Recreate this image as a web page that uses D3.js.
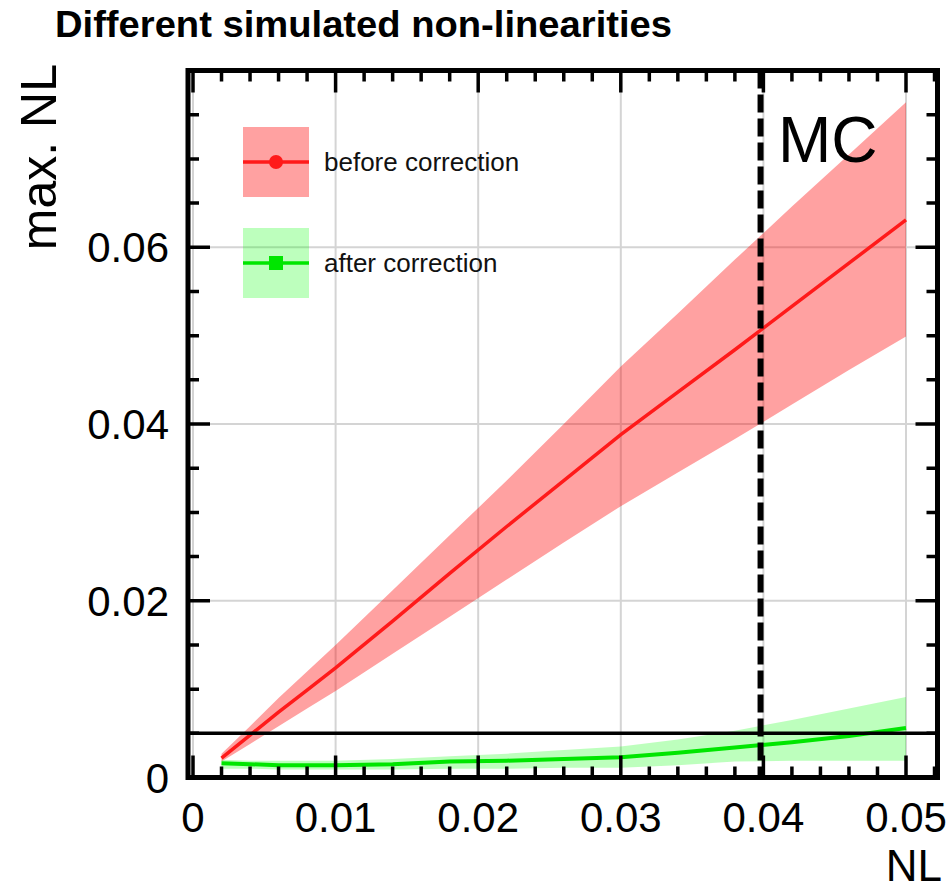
<!DOCTYPE html>
<html>
<head>
<meta charset="utf-8">
<script src="https://cdn.jsdelivr.net/npm/d3@7"></script>
<style>
  body { margin: 0; background: #fff; }
  text { font-family: "Liberation Sans", Arial, Helvetica, sans-serif; }
</style>
</head>
<body>
<svg id="chart" width="951" height="891"></svg>
<script>
// simulated NL values
const nl = [0.002, 0.004, 0.006, 0.008, 0.010, 0.014, 0.018, 0.022, 0.026, 0.030, 0.034, 0.038, 0.042, 0.046, 0.050];

// before correction: mean and band
const beforeMean = [0.0022, 0.0048, 0.0074, 0.0099, 0.0124, 0.0177, 0.0231, 0.0284, 0.0336, 0.0388, 0.0436, 0.0484, 0.0533, 0.0582, 0.0631];
const beforeHigh = [0.0027, 0.0058, 0.0090, 0.0120, 0.0150, 0.0212, 0.0274, 0.0336, 0.0400, 0.0465, 0.0525, 0.0586, 0.0646, 0.0705, 0.0764];
const beforeLow  = [0.0018, 0.0038, 0.0058, 0.0078, 0.0098, 0.0140, 0.0182, 0.0224, 0.0266, 0.0307, 0.0345, 0.0383, 0.0422, 0.0461, 0.0499];

// after correction: mean and band
const afterMean = [0.0016, 0.0015, 0.0014, 0.0014, 0.0014, 0.0015, 0.0018, 0.0019, 0.0021, 0.0023, 0.0028, 0.0034, 0.0040, 0.0047, 0.0056];
const afterHigh = [0.0020, 0.0019, 0.0019, 0.0019, 0.0019, 0.0021, 0.0024, 0.0027, 0.0031, 0.0035, 0.0043, 0.0053, 0.0065, 0.0078, 0.0091];
const afterLow  = [0.0010, 0.0010, 0.0009, 0.0009, 0.0009, 0.0009, 0.0010, 0.0010, 0.0011, 0.0011, 0.0014, 0.0018, 0.0019, 0.0019, 0.0019];

const xTicks = [0, 0.01, 0.02, 0.03, 0.04, 0.05];
const yTicks = [0, 0.02, 0.04, 0.06];
const threshold = 0.005;
const mcLine = 0.0398;
const legendLabels = ['before correction', 'after correction'];

const svg = d3.select('#chart');

const x = d3.scaleLinear().domain([0, 0.05]).range([193, 906]);
const y = d3.scaleLinear().domain([0, 0.08]).range([777.5, 70.5]);
const x0 = x.invert(188), x1 = x.invert(937.5);
const yTop = 0.08;

// grid
svg.append('g')
  .selectAll('line')
  .data(xTicks)
  .join('line')
    .attr('x1', d => x(d)).attr('x2', d => x(d))
    .attr('y1', y(0)).attr('y2', y(yTop))
    .attr('stroke', '#d4d4d4')
    .attr('stroke-width', 2);

svg.append('g')
  .selectAll('line')
  .data(yTicks.slice(1))
  .join('line')
    .attr('x1', x(x0)).attr('x2', x(x1))
    .attr('y1', d => y(d)).attr('y2', d => y(d))
    .attr('stroke', '#d4d4d4')
    .attr('stroke-width', 2);

// bands
const bandData = (lo, hi) => nl.map((v, i) => ({ x: v, lo: lo[i], hi: hi[i] }));
const area = d3.area()
  .x(d => x(d.x))
  .y0(d => y(d.lo))
  .y1(d => y(d.hi));

svg.append('path')
  .datum(bandData(beforeLow, beforeHigh))
  .attr('d', area)
  .attr('fill', '#ff0000')
  .attr('fill-opacity', 0.37);

svg.append('path')
  .datum(bandData(afterLow, afterHigh))
  .attr('d', area)
  .attr('fill', '#00ff00')
  .attr('fill-opacity', 0.26);

const line = d3.line()
  .x(d => x(d[0]))
  .y(d => y(d[1]));

svg.append('path')
  .datum(nl.map((v, i) => [v, beforeMean[i]]))
  .attr('d', line)
  .attr('fill', 'none')
  .attr('stroke', '#ff1a1a')
  .attr('stroke-width', 3.5);

svg.append('path')
  .datum(nl.map((v, i) => [v, afterMean[i]]))
  .attr('d', line)
  .attr('fill', 'none')
  .attr('stroke', '#00e600')
  .attr('stroke-width', 4);

// threshold line and MC line
svg.append('line')
  .attr('x1', x(x0)).attr('x2', x(x1))
  .attr('y1', y(threshold)).attr('y2', y(threshold))
  .attr('stroke', '#000')
  .attr('stroke-width', 3.5);

svg.append('line')
  .attr('x1', x(mcLine)).attr('x2', x(mcLine))
  .attr('y1', y(yTop)).attr('y2', y(0))
  .attr('stroke', '#000')
  .attr('stroke-width', 6)
  .attr('stroke-dasharray', '18 6');

svg.append('text')
  .attr('x', 778)
  .attr('y', 162)
  .attr('font-size', 64)
  .attr('fill', '#000')
  .text('MC');

// frame and ticks
const frame = svg.append('g');
frame.append('rect')
  .attr('x', x(x0)).attr('y', y(yTop))
  .attr('width', x(x1) - x(x0))
  .attr('height', y(0) - y(yTop))
  .attr('fill', 'none')
  .attr('stroke', '#000')
  .attr('stroke-width', 5);

const xMinor = d3.range(0, 0.0521, 0.002);
const yMinor = d3.range(0, 0.0801, 0.005);
const isMajorX = d => Math.abs(d / 0.01 - Math.round(d / 0.01)) < 1e-6;
const isMajorY = d => Math.abs(d / 0.02 - Math.round(d / 0.02)) < 1e-6;

frame.append('g')
  .selectAll('path')
  .data(xMinor)
  .join('path')
    .attr('d', d => {
      const len = isMajorX(d) ? 22 : 11;
      const px = x(d);
      return `M${px},${y(0)}V${y(0) - len}M${px},${y(yTop)}V${y(yTop) + len}`;
    })
    .attr('stroke', '#000')
    .attr('stroke-width', 3.5);

frame.append('g')
  .selectAll('path')
  .data(yMinor)
  .join('path')
    .attr('d', d => {
      const len = isMajorY(d) ? 22 : 11;
      const py = y(d);
      return `M${x(x0)},${py}H${x(x0) + len}M${x(x1)},${py}H${x(x1) - len}`;
    })
    .attr('stroke', '#000')
    .attr('stroke-width', 3.5);

// tick labels
svg.append('g')
  .selectAll('text')
  .data(xTicks)
  .join('text')
    .attr('x', d => x(d))
    .attr('y', 832)
    .attr('text-anchor', 'middle')
    .attr('font-size', 42)
    .text(d => d === 0 ? '0' : d3.format('.2f')(d));

svg.append('g')
  .selectAll('text')
  .data(yTicks)
  .join('text')
    .attr('x', 169)
    .attr('y', d => y(d) + 15)
    .attr('text-anchor', 'end')
    .attr('font-size', 42)
    .text(d => d === 0 ? '0' : d3.format('.2f')(d));

// axis titles
svg.append('text')
  .attr('x', 942)
  .attr('y', 881)
  .attr('text-anchor', 'end')
  .attr('font-size', 44)
  .text('NL');

svg.append('text')
  .attr('transform', 'translate(56, 64) rotate(-90)')
  .attr('text-anchor', 'end')
  .attr('font-size', 50)
  .text('max. NL');

svg.append('text')
  .attr('x', 55)
  .attr('y', 37)
  .attr('font-size', 37)
  .attr('font-weight', 'bold')
  .attr('textLength', 617)
  .attr('lengthAdjust', 'spacingAndGlyphs')
  .text('Different simulated non-linearities');

// legend
const legend = svg.append('g');
const entries = [
  { label: legendLabels[0], color: '#ff0000', opacity: 0.37, line: '#ff1a1a', marker: 'circle', top: 127 },
  { label: legendLabels[1], color: '#00ff00', opacity: 0.26, line: '#00e600', marker: 'square', top: 228 },
];
entries.forEach(e => {
  const g = legend.append('g').attr('transform', `translate(243, ${e.top})`);
  g.append('rect')
    .attr('width', 66).attr('height', 70)
    .attr('fill', e.color).attr('fill-opacity', e.opacity);
  g.append('line')
    .attr('x1', 0).attr('x2', 66)
    .attr('y1', 35).attr('y2', 35)
    .attr('stroke', e.line).attr('stroke-width', 3.5);
  if (e.marker === 'circle') {
    g.append('circle').attr('cx', 33).attr('cy', 35).attr('r', 7).attr('fill', e.line);
  } else {
    g.append('rect').attr('x', 26).attr('y', 28).attr('width', 14).attr('height', 14).attr('fill', e.line);
  }
  g.append('text')
    .attr('x', 81)
    .attr('y', 44)
    .attr('font-size', 26)
    .attr('fill', '#111')
    .text(e.label);
});
</script>
</body>
</html>
